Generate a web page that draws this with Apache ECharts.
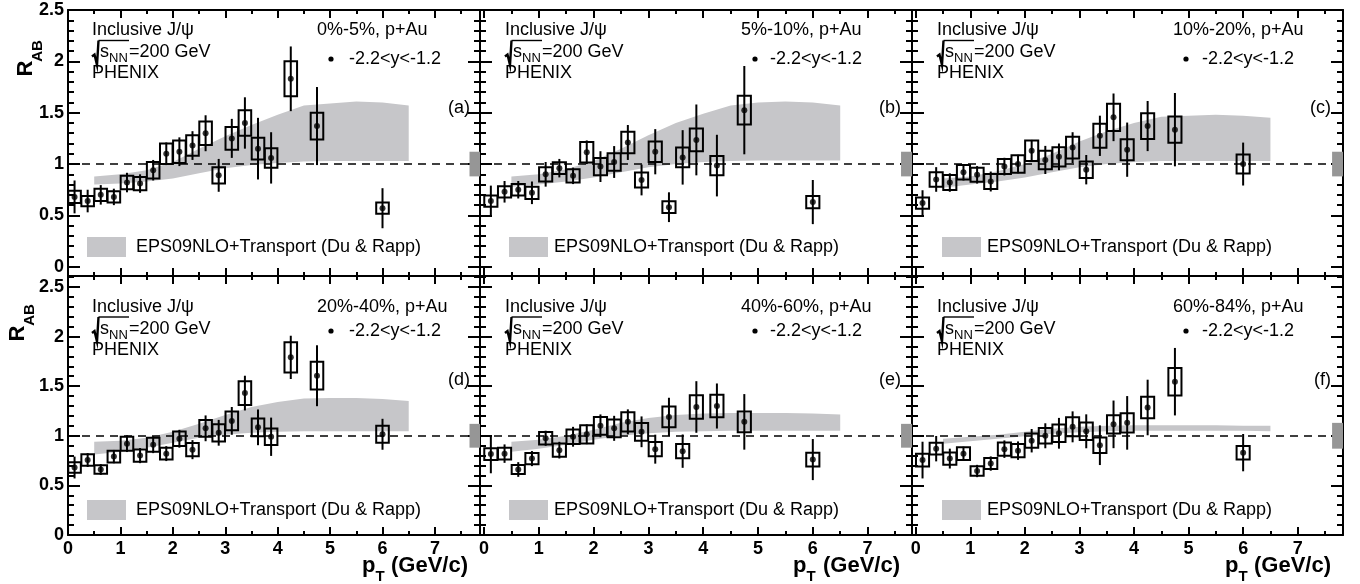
<!DOCTYPE html>
<html><head><meta charset="utf-8">
<script src="https://cdn.jsdelivr.net/npm/echarts@6/dist/echarts.min.js"></script>
<style>html,body{margin:0;padding:0;background:#fff}#c{width:1360px;height:584px}</style>
</head><body><div id="c"></div>
<script>
// ---------------- DATA ----------------
const ptBins = [0.125,0.375,0.625,0.875,1.125,1.375,1.625,1.875,2.125,2.375,2.625,2.875,3.125,3.375,3.625,3.875,4.25,4.75,6.0];

const valA  = [0.68,0.64,0.70,0.68,0.82,0.81,0.94,1.10,1.12,1.18,1.30,0.89,1.25,1.40,1.15,1.06,1.83,1.37,0.57];
const statA = [0.16,0.11,0.095,0.08,0.095,0.09,0.10,0.11,0.14,0.14,0.175,0.16,0.19,0.25,0.30,0.25,0.315,0.38,0.195];
const sysA  = [0.06,0.05,0.06,0.055,0.065,0.065,0.08,0.10,0.11,0.10,0.115,0.08,0.11,0.125,0.105,0.095,0.17,0.13,0.055];

const valB  = [0.64,0.73,0.75,0.72,0.90,0.96,0.885,1.115,0.975,1.02,1.21,0.845,1.12,0.58,1.065,1.235,0.985,1.525,0.63];
const statB = [0.15,0.105,0.085,0.11,0.12,0.09,0.08,0.115,0.15,0.155,0.17,0.15,0.22,0.145,0.265,0.345,0.30,0.43,0.215];
const sysB  = [0.055,0.055,0.057,0.06,0.07,0.057,0.065,0.10,0.083,0.085,0.105,0.073,0.10,0.057,0.097,0.11,0.093,0.14,0.06];

const valC  = [0.62,0.85,0.82,0.92,0.895,0.83,0.975,1.00,1.13,1.04,1.07,1.16,0.945,1.275,1.455,1.14,1.37,1.335,1.00];
const statC = [0.125,0.12,0.09,0.08,0.085,0.097,0.086,0.09,0.105,0.137,0.13,0.15,0.143,0.196,0.232,0.264,0.244,0.357,0.209];
const sysC  = [0.055,0.07,0.073,0.07,0.068,0.073,0.073,0.085,0.10,0.09,0.094,0.105,0.08,0.117,0.133,0.102,0.125,0.128,0.092];

const valD  = [0.68,0.755,0.66,0.79,0.92,0.80,0.91,0.82,0.97,0.86,1.075,1.03,1.15,1.43,1.085,0.99,1.79,1.605,1.015];
const statD = [0.11,0.07,0.054,0.067,0.084,0.076,0.085,0.075,0.09,0.096,0.13,0.13,0.14,0.175,0.18,0.193,0.218,0.307,0.156];
const sysD  = [0.053,0.058,0.042,0.059,0.07,0.062,0.07,0.059,0.073,0.067,0.084,0.087,0.094,0.12,0.089,0.083,0.153,0.14,0.085];

const valE  = [0.815,0.82,0.66,0.77,0.975,0.855,0.99,1.015,1.10,1.075,1.14,1.04,0.865,1.19,0.845,1.29,1.30,1.14,0.76];
const statE = [0.193,0.093,0.074,0.076,0.076,0.084,0.10,0.10,0.115,0.126,0.126,0.155,0.146,0.193,0.168,0.26,0.227,0.28,0.207];
const sysE  = [0.059,0.059,0.046,0.057,0.063,0.067,0.074,0.092,0.089,0.09,0.096,0.089,0.072,0.105,0.072,0.118,0.114,0.105,0.07];

const valF  = [0.755,0.87,0.77,0.82,0.645,0.72,0.865,0.85,0.95,1.00,1.025,1.09,1.045,0.905,1.115,1.13,1.285,1.545,0.83];
const statF = [0.185,0.128,0.10,0.07,0.062,0.072,0.088,0.093,0.118,0.126,0.155,0.156,0.171,0.20,0.24,0.27,0.28,0.34,0.188];
const sysF  = [0.064,0.059,0.062,0.064,0.047,0.055,0.066,0.067,0.072,0.079,0.089,0.096,0.088,0.078,0.093,0.098,0.109,0.138,0.068];

// theory band (EPS09NLO + Transport)
const bandPt  = [0.5,1.0,1.5,2.0,2.5,3.0,3.5,4.0,4.5,5.0,5.5,6.0,6.5];
const bandHiA = [0.88,0.90,0.94,1.02,1.15,1.27,1.38,1.48,1.57,1.59,1.61,1.60,1.57];
const bandLoA = [0.80,0.81,0.83,0.86,0.91,0.96,0.99,1.01,1.025,1.03,1.03,1.03,1.03];
const bandHiB = [0.88,0.90,0.95,1.03,1.15,1.28,1.40,1.49,1.57,1.60,1.61,1.60,1.57];
const bandLoB = [0.78,0.80,0.83,0.87,0.92,0.97,1.00,1.02,1.03,1.035,1.035,1.035,1.035];
const bandHiC = [0.86,0.88,0.93,1.00,1.10,1.22,1.32,1.40,1.46,1.47,1.48,1.47,1.45];
const bandLoC = [0.77,0.80,0.83,0.87,0.92,0.97,1.00,1.02,1.03,1.03,1.03,1.03,1.03];
const bandHiD = [0.94,0.95,0.98,1.04,1.12,1.21,1.29,1.34,1.375,1.38,1.38,1.37,1.35];
const bandLoD = [0.81,0.84,0.88,0.93,0.98,1.01,1.03,1.04,1.045,1.045,1.045,1.045,1.045];
const bandHiE = [0.94,0.96,1.00,1.06,1.13,1.18,1.21,1.225,1.23,1.23,1.23,1.225,1.215];
const bandLoE = [0.84,0.87,0.91,0.96,1.00,1.025,1.04,1.045,1.05,1.05,1.05,1.05,1.05];
const bandHiF = [0.97,0.99,1.01,1.04,1.07,1.09,1.10,1.105,1.105,1.105,1.105,1.10,1.10];
const bandLoF = [0.92,0.945,0.97,0.995,1.02,1.035,1.045,1.05,1.05,1.05,1.05,1.05,1.045];

const globalUnc = [0.12,0.12,0.12,0.12,0.12,0.13];
const centLabels = ['0%-5%','5%-10%','10%-20%','20%-40%','40%-60%','60%-84%'];
const panelTags = ['(a)','(b)','(c)','(d)','(e)','(f)'];

const xMajorTicks = [0,1,2,3,4,5,6,7];
const xMinorTicks = [0.5,1.5,2.5,3.5,4.5,5.5,6.5,7.5];
const yMajorTicks = [0,0.5,1,1.5,2,2.5];
const yMinorTicks = [0.1,0.2,0.3,0.4,0.6,0.7,0.8,0.9,1.1,1.2,1.3,1.4,1.6,1.7,1.8,1.9,2.1,2.2,2.3,2.4,2.6];

// ---------------- LAYOUT / STYLE ----------------
const FONT = "'Liberation Sans', Arial, Helvetica, sans-serif";
const BAND = '#c6c6c9';
const GBOX = '#969696';
const BOXHALF = 0.12;
const layout = [
  {l:68,  r:480,  t:10,  b:276, x0:0,      x1:7.86, y0:-0.09, y1:2.5},
  {l:480, r:912,  t:10,  b:276, x0:-0.073, x1:7.81, y0:-0.09, y1:2.5},
  {l:912, r:1343, t:10,  b:276, x0:-0.068, x1:7.83, y0:-0.09, y1:2.5},
  {l:68,  r:480,  t:276, b:535, x0:0,      x1:7.86, y0:0,     y1:2.61},
  {l:480, r:912,  t:276, b:535, x0:-0.073, x1:7.81, y0:0,     y1:2.61},
  {l:912, r:1343, t:276, b:535, x0:-0.068, x1:7.83, y0:0,     y1:2.61}
];
const panels = [
  {val:valA, stat:statA, sys:sysA, hi:bandHiA, lo:bandLoA},
  {val:valB, stat:statB, sys:sysB, hi:bandHiB, lo:bandLoB},
  {val:valC, stat:statC, sys:sysC, hi:bandHiC, lo:bandLoC},
  {val:valD, stat:statD, sys:sysD, hi:bandHiD, lo:bandLoD},
  {val:valE, stat:statE, sys:sysE, hi:bandHiE, lo:bandLoE},
  {val:valF, stat:statF, sys:sysF, hi:bandHiF, lo:bandLoF}
];

const grids = [], xAxes = [], yAxes = [], series = [], graphics = [];

function inRange(arr, a, b){ return arr.filter(v => v >= a - 1e-9 && v <= b + 1e-9); }
function axisBase(gi, pos, min, max, ticks, len, showLabels, showLine, isX){
  return {
    type:'value', gridIndex:gi, position:pos, min:min, max:max,
    axisLine:{show:showLine, onZero:false, lineStyle:{color:'#000', width:2}},
    axisTick:{show:true, inside:true, length:len, customValues:ticks, lineStyle:{color:'#000', width:2}},
    axisLabel:{show:showLabels, customValues:ticks, color:'#000', fontFamily:FONT, fontWeight:'bold', fontSize:18, margin: isX ? 5 : 4},
    splitLine:{show:false}, minorTick:{show:false}, minorSplitLine:{show:false}
  };
}

layout.forEach((L, i) => {
  const row = Math.floor(i/3), col = i%3;
  grids.push({left:L.l, top:L.t, width:L.r - L.l, height:L.b - L.t, containLabel:false});
  const xMaj = inRange(xMajorTicks, L.x0, L.x1), xMin = inRange(xMinorTicks, L.x0, L.x1);
  const yMaj = inRange(yMajorTicks, L.y0, L.y1), yMin = inRange(yMinorTicks, L.y0, L.y1);
  xAxes.push(axisBase(i,'bottom',L.x0,L.x1,xMaj,8,row===1,true,true));
  xAxes.push(axisBase(i,'bottom',L.x0,L.x1,xMin,4,false,false,true));
  xAxes.push(axisBase(i,'top',L.x0,L.x1,xMaj,8,false,true,true));
  xAxes.push(axisBase(i,'top',L.x0,L.x1,xMin,4,false,false,true));
  yAxes.push(axisBase(i,'left',L.y0,L.y1,yMaj,12,col===0,true,false));
  yAxes.push(axisBase(i,'left',L.y0,L.y1,yMin,6,false,false,false));
  yAxes.push(axisBase(i,'right',L.y0,L.y1,yMaj,12,false,true,false));
  yAxes.push(axisBase(i,'right',L.y0,L.y1,yMin,6,false,false,false));

  const P = panels[i];
  const ax = i*4;
  // theory band
  series.push({
    type:'custom', xAxisIndex:ax, yAxisIndex:ax, z:1, silent:true,
    data: bandPt.map((x,k) => [x, P.lo[k], P.hi[k]]),
    renderItem: (params, api) => {
      if (params.dataIndex !== 0) return null;
      const pts = [];
      for (let k = 0; k < bandPt.length; k++) pts.push(api.coord([bandPt[k], P.hi[k]]));
      for (let k = bandPt.length - 1; k >= 0; k--) pts.push(api.coord([bandPt[k], P.lo[k]]));
      return {type:'polygon', shape:{points:pts}, style:{fill:BAND, stroke:null}};
    }
  });
  // systematic boxes
  series.push({
    type:'custom', xAxisIndex:ax, yAxisIndex:ax, z:6, silent:true,
    data: ptBins.map((x,k) => [x, P.val[k], P.sys[k]]),
    renderItem: (params, api) => {
      const x = api.value(0), v = api.value(1), s = api.value(2);
      const a = api.coord([x - BOXHALF, v + s]);
      const b = api.coord([x + BOXHALF, v - s]);
      return {type:'rect', shape:{x:a[0], y:a[1], width:b[0]-a[0], height:b[1]-a[1]},
              style:{fill:null, stroke:'#000', lineWidth:2}};
    }
  });
  // statistical error bars
  series.push({
    type:'custom', xAxisIndex:ax, yAxisIndex:ax, z:7, silent:true,
    data: ptBins.map((x,k) => [x, P.val[k], P.stat[k]]),
    renderItem: (params, api) => {
      const x = api.value(0), v = api.value(1), e = api.value(2);
      const a = api.coord([x, v + e]);
      const b = api.coord([x, v - e]);
      return {type:'line', shape:{x1:a[0], y1:a[1], x2:b[0], y2:b[1]},
              style:{stroke:'#000', lineWidth:2}};
    }
  });
  // points + reference line at 1
  series.push({
    type:'scatter', xAxisIndex:ax, yAxisIndex:ax, z:8, silent:true,
    symbol:'circle', symbolSize:6, itemStyle:{color:'#000'},
    data: ptBins.map((x,k) => [x, P.val[k]]),
    markLine:{silent:true, symbol:['none','none'], label:{show:false},
      lineStyle:{color:'#000', width:1.5, type:[8,6]},
      data:[{yAxis:1}]}
  });
  // global uncertainty box at right edge
  series.push({
    type:'custom', xAxisIndex:ax, yAxisIndex:ax, z:20, silent:true,
    data: [[L.x1 - 0.2, L.x1, 1 - globalUnc[i], 1 + globalUnc[i]]],
    renderItem: (params, api) => {
      const a = api.coord([api.value(0), api.value(3)]);
      const b = api.coord([api.value(1), api.value(2)]);
      return {type:'rect', shape:{x:a[0], y:a[1], width:b[0]-a[0], height:b[1]-a[1]},
              style:{fill:GBOX, stroke:null}};
    }
  });

  // ---- annotations ----
  const lx = [92,505,937][col];
  const ys = row === 0 ? [30, 52.5, 73] : [307.5, 329, 350];
  const f18 = 'normal 18px ' + FONT;
  graphics.push({type:'text', x:lx, y:ys[0], style:{text:'Inclusive J/\u03c8', font:f18, fill:'#000', textAlign:'left', textVerticalAlign:'middle'}});
  graphics.push({type:'polyline', shape:{points:[[lx,ys[1]+4],[lx+2.5,ys[1]+2],[lx+5,ys[1]+12.5],[lx+6.5,ys[1]-12]]},
                 style:{stroke:'#000', lineWidth:2.4, fill:null}});
  graphics.push({type:'polyline', shape:{points:[[lx+6.5,ys[1]-12],[lx+37,ys[1]-12]]},
                 style:{stroke:'#000', lineWidth:1.4, fill:null}});
  graphics.push({type:'text', x:lx+8, y:ys[1], style:{text:'s', font:f18, fill:'#000', textAlign:'left', textVerticalAlign:'middle'}});
  graphics.push({type:'text', x:lx+17, y:ys[1]+6, style:{text:'NN', font:'normal 13px ' + FONT, fill:'#000', textAlign:'left', textVerticalAlign:'middle'}});
  graphics.push({type:'text', x:lx+37, y:ys[1], style:{text:'=200 GeV', font:f18, fill:'#000', textAlign:'left', textVerticalAlign:'middle'}});
  graphics.push({type:'text', x:lx, y:ys[2], style:{text:'PHENIX', font:f18, fill:'#000', textAlign:'left', textVerticalAlign:'middle'}});

  const cx = [317,741,1173][col];
  graphics.push({type:'text', x:cx, y:ys[0], style:{text:centLabels[i] + ', p+Au', font:f18, fill:'#000', textAlign:'left', textVerticalAlign:'middle'}});
  const yr = row === 0 ? 59 : 331;
  graphics.push({type:'circle', shape:{cx:[331,755,1186][col], cy:yr, r:2.6}, style:{fill:'#000'}});
  graphics.push({type:'text', x:[349,770,1202][col], y:yr, style:{text:'-2.2<y<-1.2', font:f18, fill:'#000', textAlign:'left', textVerticalAlign:'middle'}});
  graphics.push({type:'text', x:[470,901,1331][col], y:row === 0 ? 108 : 380, style:{text:panelTags[i], font:f18, fill:'#000', textAlign:'right', textVerticalAlign:'middle'}});

  const lgY = row === 0 ? 237 : 500;
  graphics.push({type:'rect', shape:{x:[87,509,942][col], y:lgY, width:39, height:20}, style:{fill:BAND}});
  graphics.push({type:'text', x:[136,554,987][col], y:lgY+10, style:{text:'EPS09NLO+Transport (Du & Rapp)', font:f18, fill:'#000', textAlign:'left', textVerticalAlign:'middle'}});
});

// axis titles
const rPos = [{R:[25.5,68.5], AB:[38,51]}, {R:[17.5,333.5], AB:[29.5,315]}];
rPos.forEach(p => {
  graphics.push({type:'text', x:p.R[0], y:p.R[1], rotation:Math.PI/2, style:{text:'R', font:'bold 22px ' + FONT, fill:'#000', textAlign:'center', textVerticalAlign:'middle'}});
  graphics.push({type:'text', x:p.AB[0], y:p.AB[1], rotation:Math.PI/2, style:{text:'AB', font:'bold 15px ' + FONT, fill:'#000', textAlign:'center', textVerticalAlign:'middle'}});
});
[0,1,2].forEach(col => {
  const ps = [362,793,1225][col];
  const re = [468,900,1331][col];
  graphics.push({type:'text', x:ps, y:566, style:{text:'p', font:'bold 22px ' + FONT, fill:'#000', textAlign:'left', textVerticalAlign:'middle'}});
  graphics.push({type:'text', x:ps+13.5, y:577, style:{text:'T', font:'bold 15px ' + FONT, fill:'#000', textAlign:'left', textVerticalAlign:'middle'}});
  graphics.push({type:'text', x:re, y:566, style:{text:'(GeV/c)', font:'bold 22px ' + FONT, fill:'#000', textAlign:'right', textVerticalAlign:'middle'}});
});

const chart = echarts.init(document.getElementById('c'), null, {renderer:'canvas'});
chart.setOption({
  animation:false,
  backgroundColor:'#fff',
  grid:grids, xAxis:xAxes, yAxis:yAxes, series:series,
  graphic:{elements:graphics}
});
</script>
</body></html>
